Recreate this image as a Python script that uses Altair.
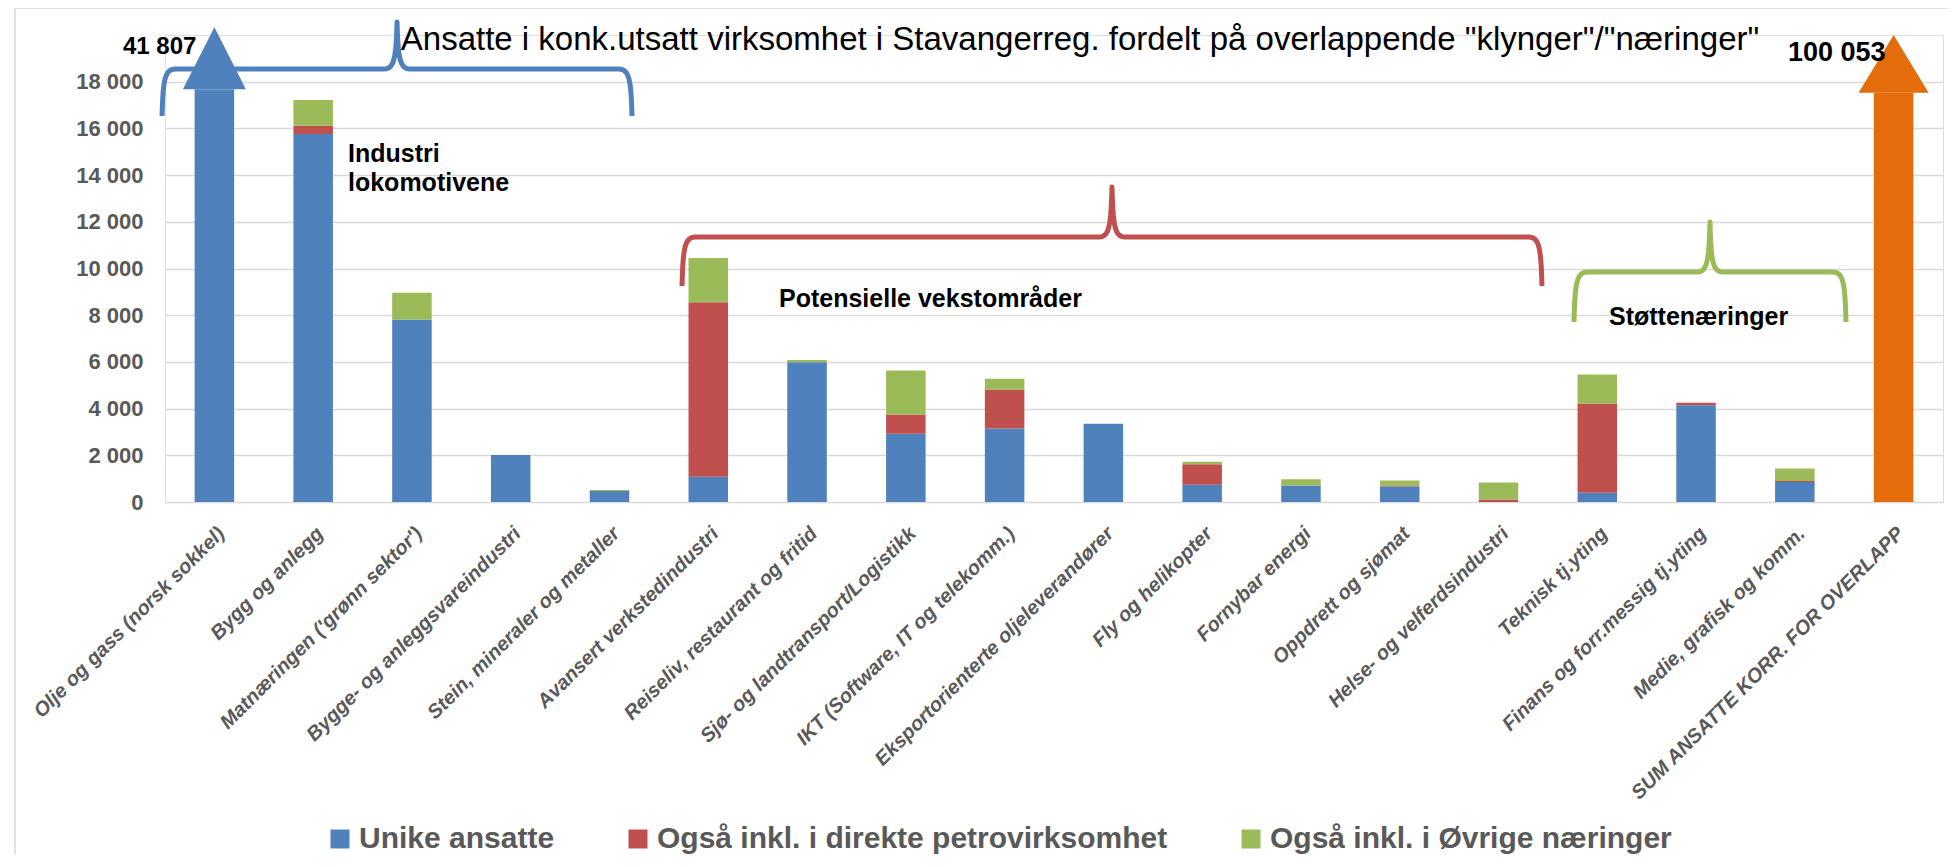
import altair as alt
import pandas as pd

# ---------------- data ----------------
categories = [
    "Olje og gass (norsk sokkel)",
    "Bygg og anlegg",
    "Matnæringen ('grønn sektor')",
    "Bygge- og anleggsvareindustri",
    "Stein, mineraler og metaller",
    "Avansert verkstedindustri",
    "Reiseliv, restaurant og fritid",
    "Sjø- og landtransport/Logistikk",
    "IKT (Software, IT og telekomm.)",
    "Eksportorienterte oljeleverandører",
    "Fly og helikopter",
    "Fornybar energi",
    "Oppdrett og sjømat",
    "Helse- og velferdsindustri",
    "Teknisk tj.yting",
    "Finans og forr.messig tj.yting",
    "Medie, grafisk og komm.",
    "SUM ANSATTE KORR. FOR OVERLAPP",
]
series_names = [
    "Unike ansatte",
    "Også inkl. i direkte petrovirksomhet",
    "Også inkl. i Øvrige næringer",
]
unike = [0, 15760, 7820, 2010, 470, 1080, 5990, 2920, 3150, 3350, 740, 710, 660, 0, 400, 4140, 860, 0]
petro = [0, 350, 0, 0, 0, 7470, 0, 830, 1670, 0, 880, 0, 50, 110, 3820, 110, 40, 0]
ovrige = [0, 1110, 1140, 0, 40, 1900, 90, 1880, 460, 0, 100, 260, 210, 720, 1240, 0, 530, 0]

arrow_categories = [categories[0], categories[17]]
arrow_totals = [41807, 100053]

title_text = 'Ansatte i konk.utsatt virksomhet i Stavangerreg. fordelt på overlappende "klynger"/"næringer"'
group_labels = ["Industri", "lokomotivene", "Potensielle vekstområder", "Støttenæringer"]

# ---------------- style ----------------
FONT = "Liberation Sans, Arial, sans-serif"
W, H = 1778, 467
YMAX = 20000
STEP = W / len(categories)
series_colors = ["#4F81BD", "#C0504D", "#9BBB59"]
arrow_colors = ["#4F81BD", "#E46C0A"]
arrow_cap = [17675, 17530]          # value at which the broken arrow shaft ends
arrow_head_half = [1330, 1235]      # half height of arrow head (value units)
arrow_head_path = ["M-1,0.984L1,0.984L0,-0.984Z", "M-1,0.824L1,0.824L0,-0.824Z"]
arrow_head_size = [3969, 4900]
arrow_label_y = [19465, 19230]
arrow_label_dx = [-18, -8]
arrow_label_size = [24, 27]

yscale = alt.Scale(domain=[0, YMAX], nice=False, zero=True)
xscale = alt.Scale(paddingInner=0.6, paddingOuter=0.3)

rows = []
for i, c in enumerate(categories):
    for s, (name, vals) in enumerate(zip(series_names, [unike, petro, ovrige])):
        if vals[i] > 0:
            rows.append({"category": c, "series": name, "sidx": s, "value": vals[i]})
df = pd.DataFrame(rows)

x_enc = alt.X("category:N", sort=categories, scale=xscale,
              axis=alt.Axis(title=None, labelAngle=-45, labelAlign="right", labelBaseline="top",
                            labelFontSize=20, labelFontStyle="italic", labelFontWeight="bold",
                            labelColor="#595959", labelFont=FONT, labelPadding=21, ticks=False,
                            domain=False, labelLimit=600, labelOverlap=False))

bars = alt.Chart(df).mark_bar().encode(
    x=x_enc,
    y=alt.Y("value:Q", stack="zero", scale=yscale,
            axis=alt.Axis(title=None, values=list(range(0, 18001, 2000)),
                          labelExpr="replace(format(datum.value, ','), ',', ' ')",
                          grid=True, gridColor="#D9D9D9", gridWidth=1.5, domain=False,
                          ticks=False, labelPadding=22, labelFontSize=22, labelFontWeight="bold",
                          labelColor="#595959", labelFont=FONT)),
    color=alt.Color("series:N", sort=series_names,
                    scale=alt.Scale(domain=series_names, range=series_colors),
                    legend=alt.Legend(orient="none", legendX=160, legendY=789, direction="horizontal",
                                      title=None, symbolType="square", symbolSize=361,
                                      symbolStrokeWidth=0, labelFontSize=30, labelFontWeight="bold",
                                      labelColor="#595959", labelFont=FONT, columnPadding=68,
                                      labelOffset=4, labelLimit=1000)),
    order=alt.Order("sidx:Q", sort="ascending"),
)

arrow_layers = []
for i in range(2):
    adf = pd.DataFrame({"category": [arrow_categories[i]], "total": [arrow_totals[i]],
                        "label": [f"{arrow_totals[i]:,}".replace(",", " ")]})
    base = alt.Chart(adf).transform_calculate(
        shaft=f"min(datum.total, {arrow_cap[i]})",
        head=f"min(datum.total, {arrow_cap[i]}) + {arrow_head_half[i]}",
        ly=f"{arrow_label_y[i]}",
    )
    shaft = base.mark_bar(color=arrow_colors[i]).encode(
        x=alt.X("category:N", sort=categories, scale=xscale),
        y=alt.Y("shaft:Q", scale=yscale),
    )
    head = base.mark_point(shape=arrow_head_path[i], size=arrow_head_size[i], filled=True,
                           opacity=1, strokeWidth=0, color=arrow_colors[i]).encode(
        x=alt.X("category:N", sort=categories, scale=xscale),
        y=alt.Y("head:Q", scale=yscale),
    )
    lab = base.mark_text(align="right", baseline="middle", dx=arrow_label_dx[i],
                         fontSize=arrow_label_size[i], fontWeight="bold", font=FONT,
                         color="black").encode(
        x=alt.X("category:N", sort=categories, scale=xscale),
        y=alt.Y("ly:Q", scale=yscale),
        text="label:N",
    )
    arrow_layers += [shaft, head, lab]

main = alt.layer(bars, *arrow_layers)

# ---------------- braces (category-index / value units) ----------------
braces = [
    # x0, xm, x1 (category index), y_end, y_h, y_peak (values), colour
    (-0.53, 1.849, 4.228, 16531, 18544, 20557, "#4F81BD"),
    (4.734, 9.087, 13.44, 9251, 11349, 13490, "#C0504D"),
    (13.764, 15.141, 16.518, 7709, 9850, 11991, "#9BBB59"),
]


def to_px(ix, v):
    return (ix + 0.5) * STEP, H * (1 - v / YMAX)


def to_data(px, py):
    return px / STEP - 0.5, (H - py) / H * YMAX


def cubic(p0, p1, p2, p3, n=10):
    pts = []
    for k in range(n + 1):
        t = k / n
        a, b, c, d = (1 - t) ** 3, 3 * (1 - t) ** 2 * t, 3 * (1 - t) * t ** 2, t ** 3
        pts.append((a * p0[0] + b * p1[0] + c * p2[0] + d * p3[0],
                    a * p0[1] + b * p1[1] + c * p2[1] + d * p3[1]))
    return pts


brows = []
for bi, (x0, xm, x1, ye, yh, yp, col) in enumerate(braces):
    X0, YE = to_px(x0, ye)
    XM, YH = to_px(xm, yh)
    X1, YP = to_px(x1, yp)
    pts = []
    pts += cubic((X0, YE), (X0 + 1, YH + 14), (X0 + 2, YH), (X0 + 13, YH))
    pts += cubic((XM - 13, YH), (XM - 3, YH), (XM - 1, YH - 10), (XM, YP))
    pts += cubic((XM, YP), (XM + 1, YH - 10), (XM + 3, YH), (XM + 13, YH))
    pts += cubic((X1 - 13, YH), (X1 - 2, YH), (X1 - 1, YH + 14), (X1, YE))
    for k, (px, py) in enumerate(pts):
        bx, bv = to_data(px, py)
        brows.append({"brace": bi, "k": k, "bx": bx, "value": bv, "col": col})
bdf = pd.DataFrame(brows)

brace_layer = alt.Chart(bdf).mark_line(strokeWidth=5, strokeCap="butt", strokeJoin="round").encode(
    x=alt.X("bx:Q", scale=alt.Scale(domain=[-0.5, len(categories) - 0.5], nice=False, zero=False), axis=None),
    y=alt.Y("value:Q", scale=alt.Scale(domain=[0, YMAX], nice=False, zero=True), axis=None),
    color=alt.Color("col:N", scale=None),
    detail="brace:N",
    order="k:Q",
)

# ---------------- text annotations ----------------
def label(text, x, y, size, weight="bold", align="left"):
    return alt.Chart(pd.DataFrame({"t": [text]})).mark_text(
        align=align, baseline="alphabetic", fontSize=size, fontWeight=weight, font=FONT, color="black"
    ).encode(text="t:N", x=alt.value(x), y=alt.value(y))


title = label(title_text, 915, 15, 33, weight="normal", align="center")
t1 = label(group_labels[0], 183, 127, 25)
t2 = label(group_labels[1], 183, 156, 25)
t3 = label(group_labels[2], 614, 272, 25)
t4 = label(group_labels[3], 1444, 290, 25)

border = alt.Chart(pd.DataFrame({"a": [0]})).mark_rect(
    fillOpacity=0, stroke="#D9D9D9", strokeWidth=1.5
).encode(x=alt.value(-150), x2=alt.value(W + 60), y=alt.value(-27), y2=alt.value(H + 420))

chart = alt.layer(
    border, main, brace_layer, title, t1, t2, t3, t4
).resolve_scale(x="independent", y="independent").properties(
    width=W, height=H,
    padding={"left": 157, "top": 27, "right": 6, "bottom": 352},
    autosize=alt.AutoSizeParams(type="none"),
    background="white",
).configure_view(stroke=None).configure(font=FONT)

chart.save("out.html", embed_options={"renderer": "svg", "actions": False})
